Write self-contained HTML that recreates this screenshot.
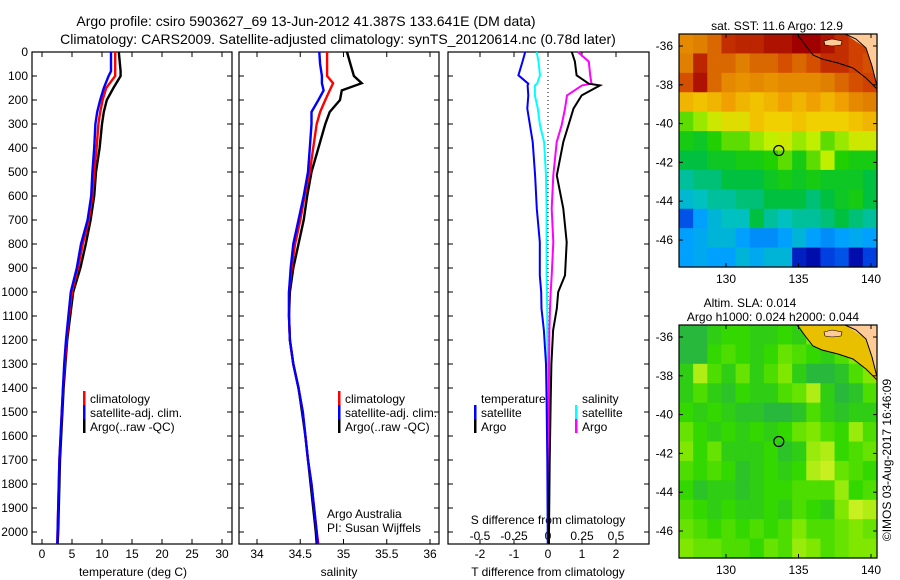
<!DOCTYPE html>
<html><head><meta charset="utf-8"><style>
html,body{margin:0;padding:0;background:#fff;}
svg{display:block;font-family:"Liberation Sans",sans-serif;}
</style></head><body>
<svg id="fig" width="900" height="580" viewBox="0 0 900 580">
<text x="306" y="26" font-size="14" text-anchor="middle">Argo profile: csiro 5903627_69 13-Jun-2012 41.387S 133.641E (DM data)</text>
<text x="338" y="44" font-size="14" text-anchor="middle">Climatology: CARS2009. Satellite-adjusted climatology: synTS_20120614.nc (0.78d later)</text>
<g id="p1"></g>
<g id="p2"></g>
<g id="p3"></g>
<g id="m1"></g>
<g id="m2"></g>
<text transform="translate(891,460) rotate(-90)" font-size="12" text-anchor="middle">©IMOS 03-Aug-2017 16:46:09</text>
</svg>
<script>
// ---- data ----
const depthT = [0,80,100,150,200,250,300,400,500,600,700,800,900,1000,1100,1200,1300,1400,1500,1600,1700,1800,1900,2000,2050];
const tempClim = [12.2,12.2,12.2,10.7,10.1,9.7,9.4,9.1,8.7,8.4,7.8,6.8,6.0,5.0,4.5,4.1,3.8,3.5,3.3,3.1,2.9,2.8,2.7,2.6,2.55];
const tempSat  = [11.5,11.5,11.1,10.3,9.7,9.2,8.9,8.7,8.4,8.2,7.6,6.5,5.8,4.8,4.4,4.0,3.7,3.5,3.3,3.1,2.9,2.8,2.7,2.6,2.55];
const tempArgo = [12.8,13.1,13.1,11.9,10.8,10.3,10.0,9.6,9.0,8.7,8.1,7.3,6.4,5.2,4.7,4.2,3.9,3.6,3.4,3.2,3.0,2.9,2.8,2.7,2.6];
const depthS = [0,50,100,130,160,200,250,300,400,500,600,700,800,900,1000,1100,1200,1300,1400,1500,1600,1700,1800,1900,2000,2050];
const salClim = [34.81,34.81,34.81,34.88,34.84,34.79,34.73,34.69,34.65,34.61,34.55,34.50,34.44,34.40,34.37,34.37,34.38,34.42,34.48,34.53,34.56,34.59,34.63,34.66,34.69,34.71];
const salSat  = [34.72,34.73,34.75,34.75,34.77,34.71,34.63,34.63,34.61,34.59,34.54,34.48,34.42,34.39,34.37,34.37,34.38,34.42,34.48,34.53,34.56,34.59,34.63,34.66,34.69,34.70];
const salArgo = [35.04,35.08,35.12,35.21,34.98,34.96,34.84,34.79,34.71,34.63,34.58,34.54,34.48,34.42,34.38,34.37,34.38,34.42,34.48,34.52,34.56,34.59,34.62,34.65,34.68,34.69];
const depthD = [0,40,97,132,139,181,236,306,375,514,653,792,931,1000,1069,1160,1300,1450,1700,2000,2050];
const dTSat  = [-0.67,-0.75,-0.87,-0.58,-0.6,-0.58,-0.61,-0.53,-0.45,-0.38,-0.33,-0.24,-0.24,-0.2,-0.19,-0.12,-0.06,-0.04,-0.02,-0.01,-0.01];
const dTArgo = [0.70,0.79,0.84,1.2,1.53,0.99,0.75,0.60,0.45,0.26,0.45,0.55,0.50,0.30,0.26,0.15,0.10,0.08,0.05,0.03,0.03];
const dSSat  = [-0.083,-0.07,-0.059,-0.08,-0.096,-0.096,-0.075,-0.059,-0.029,-0.015,-0.01,-0.01,-0.01,-0.008,-0.006,-0.005,-0.004,-0.003,-0.002,-0.001,0];
const dSArgo = [0.22,0.30,0.31,0.32,0.25,0.14,0.125,0.10,0.064,0.039,0.027,0.039,0.027,0.02,0.015,0.01,0.008,0.006,0.004,0.003,0.003];
const depthTicks = [0,100,200,300,400,500,600,700,800,900,1000,1100,1200,1300,1400,1500,1600,1700,1800,1900,2000];
const tempTicks = [0,5,10,15,20,25,30];
const salTicks = [34,34.5,35,35.5,36];
const salTickLabels = ["34","34.5","35","35.5","36"];
const tdTicks = [-2,-1,0,1,2];
const sdTicks = [-0.5,-0.25,0,0.25,0.5];
const sdTickLabels = ["-0.5","-0.25","0","0.25","0.5"];
const lonTicks = [130,135,140];
const latTicks = [-36,-38,-40,-42,-44,-46];
const sstGrid = [
[.80,.82,.85,.92,.93,.93,.95,.95,.97,.97,.95,.92,.90,.90],
[.82,.93,.85,.85,.82,.85,.85,.88,.85,.88,.92,.92,.90,.88],
[.88,.95,.85,.80,.78,.80,.78,.80,.80,.80,.82,.85,.88,.90],
[.72,.70,.72,.75,.72,.70,.72,.75,.72,.75,.72,.75,.80,.82],
[.55,.58,.62,.65,.65,.70,.68,.68,.70,.68,.68,.68,.70,.72],
[.50,.48,.52,.55,.55,.58,.60,.62,.58,.60,.55,.58,.62,.62],
[.45,.45,.48,.48,.50,.50,.52,.55,.50,.55,.60,.52,.50,.50],
[.40,.42,.42,.45,.45,.45,.48,.50,.48,.50,.48,.48,.48,.45],
[.36,.38,.40,.40,.42,.42,.45,.45,.45,.42,.45,.48,.50,.45],
[.22,.30,.35,.38,.38,.45,.40,.38,.40,.40,.42,.45,.42,.40],
[.30,.32,.35,.35,.30,.28,.28,.30,.35,.30,.28,.30,.32,.30],
[.30,.32,.30,.30,.35,.32,.35,.35,.15,.12,.20,.22,.12,.20]];
const slaGrid = [
[.3,.3,.4,.45,.45,.4,.4,.45,.4,.6,.8,.9,.9,.9],
[.3,.3,.45,.5,.45,.4,.45,.55,.5,.45,.4,.5,.6,.7],
[.4,.7,.5,.4,.55,.4,.5,.6,.4,.3,.3,.35,.5,.6],
[.4,.5,.4,.35,.45,.4,.4,.5,.55,.7,.4,.3,.35,.5],
[.45,.4,.45,.4,.35,.35,.3,.3,.35,.5,.4,.35,.4,.4],
[.55,.45,.4,.45,.4,.45,.4,.45,.55,.6,.5,.45,.65,.5],
[.6,.45,.55,.4,.4,.4,.45,.35,.4,.65,.7,.45,.5,.55],
[.5,.45,.5,.45,.35,.4,.45,.4,.45,.7,.75,.55,.5,.45],
[.45,.35,.4,.4,.35,.4,.45,.45,.5,.5,.5,.65,.45,.5],
[.5,.45,.4,.45,.4,.4,.45,.4,.5,.45,.4,.6,.75,.7],
[.55,.5,.45,.5,.45,.5,.45,.5,.6,.5,.5,.55,.6,.55],
[.6,.55,.55,.5,.5,.45,.55,.5,.65,.6,.5,.55,.6,.6]];

// ---- helpers ----
const NS="http://www.w3.org/2000/svg";
function mk(parent,tag,attrs,txt){const e=document.createElementNS(NS,tag);for(const k in attrs)e.setAttribute(k,attrs[k]);if(txt!==undefined)e.textContent=txt;parent.appendChild(e);return e;}
const PT=52, PB=544;
const yD = d => PT + d*0.24;
function linX(d0,p0,d1,p1){return v=>p0+(v-d0)*(p1-p0)/(d1-d0);}
const xT = linX(0,42,30,222);
const xS = linX(34,257,36,430);
const xTD = linX(0,548,2,616);
const xSD = linX(0,548,0.5,616);

function frame(g,x0,x1,xticks,xf){
  const r=mk(g,'rect',{x:x0,y:PT,width:x1-x0,height:PB-PT,fill:'none',stroke:'#000','stroke-width':1.2});
  
  
  depthTicks.forEach(d=>{
    mk(g,'line',{x1:x0,x2:x0+5,y1:yD(d),y2:yD(d),stroke:'#000'});
    mk(g,'line',{x1:x1,x2:x1-5,y1:yD(d),y2:yD(d),stroke:'#000'});
  });
  xticks.forEach(v=>{
    mk(g,'line',{x1:xf(v),x2:xf(v),y1:PT,y2:PT+5,stroke:'#000'});
    mk(g,'line',{x1:xf(v),x2:xf(v),y1:PB,y2:PB-5,stroke:'#000'});
  });
}
function series(g,xs,ds,xf,color,name,w){
  const pts=xs.map((v,i)=>xf(v).toFixed(1)+','+yD(ds[i]).toFixed(1)).join(' ');
  const p=mk(g,'polyline',{points:pts,fill:'none',stroke:color,'stroke-width':w||2.4,'stroke-linejoin':'miter'});
  
  
}
function legend(g,x,y,color,label,name){
  mk(g,'rect',{x:x,y:y-7,width:2.5,height:14,fill:color});
  const t=mk(g,'text',{x:x+7,y:y+5,'font-size':12},label);
  
  
}

// ---- panel 1 ----
const p1=document.getElementById('p1');
frame(p1,32,232,tempTicks,xT);
depthTicks.forEach(d=>{const t=mk(p1,'text',{x:28,y:yD(d)+4,'font-size':12,'text-anchor':'end'},String(d));
 
 });
tempTicks.forEach(v=>{const t=mk(p1,'text',{x:xT(v),y:558,'font-size':12,'text-anchor':'middle'},String(v));
 
 });
let t1=mk(p1,'text',{x:133,y:576,'font-size':12,'text-anchor':'middle'},'temperature (deg C)');


series(p1,tempArgo,depthT,xT,'#000','line-temp-argo');
series(p1,tempClim,depthT,xT,'#f00','line-temp-clim');
series(p1,tempSat,depthT,xT,'#00f','line-temp-sat');
legend(p1,83,398,'#f00','climatology','legend-climatology');
legend(p1,83,412,'#00f','satellite-adj. clim.','legend-satellite-adj');
legend(p1,83,426,'#000','Argo(..raw -QC)','legend-argo');

// ---- panel 2 ----
const p2=document.getElementById('p2');
frame(p2,239,439,salTicks,xS);
salTicks.forEach((v,i)=>{const t=mk(p2,'text',{x:xS(v),y:558,'font-size':12,'text-anchor':'middle'},salTickLabels[i]);
 
 });
let t2=mk(p2,'text',{x:339,y:576,'font-size':12,'text-anchor':'middle'},'salinity');


series(p2,salArgo,depthS,xS,'#000','line-sal-argo');
series(p2,salClim,depthS,xS,'#f00','line-sal-clim');
series(p2,salSat,depthS,xS,'#00f','line-sal-sat');
legend(p2,338,398,'#f00','climatology','legend-climatology');
legend(p2,338,412,'#00f','satellite-adj. clim.','legend-satellite-adj');
legend(p2,338,426,'#000','Argo(..raw -QC)','legend-argo');
let a1=mk(p2,'text',{x:327,y:518,'font-size':12},'Argo Australia');


let a2=mk(p2,'text',{x:327,y:532,'font-size':12},'PI: Susan Wijffels');



// ---- panel 3 ----
const p3=document.getElementById('p3');
frame(p3,448,649,tdTicks,xTD);
mk(p3,'line',{x1:548,x2:548,y1:PT,y2:PB,stroke:'#000','stroke-dasharray':'1,3'});
tdTicks.forEach(v=>{const t=mk(p3,'text',{x:xTD(v),y:558,'font-size':12,'text-anchor':'middle'},String(v));
 
 });
sdTicks.forEach((v,i)=>{const t=mk(p3,'text',{x:xSD(v),y:540,'font-size':12,'text-anchor':'middle'},sdTickLabels[i]);
 
 });
let t3=mk(p3,'text',{x:548,y:576,'font-size':12,'text-anchor':'middle'},'T difference from climatology');


let t4=mk(p3,'text',{x:548,y:524,'font-size':12,'text-anchor':'middle'},'S difference from climatology');


series(p3,dSSat,depthD,xSD,'#0ff','line-sdiff-sat',2);
series(p3,dSArgo,depthD,xSD,'#f0f','line-sdiff-argo',2);
series(p3,dTSat,depthD,xTD,'#00f','line-tdiff-sat',2);
series(p3,dTArgo,depthD,xTD,'#000','line-tdiff-argo',2);
let lt=mk(p3,'text',{x:481,y:403,'font-size':12},'temperature');


let ls=mk(p3,'text',{x:582,y:403,'font-size':12},'salinity');


legend(p3,474,412,'#00f','satellite','legend-t-satellite');
legend(p3,474,426,'#000','Argo','legend-t-argo');
legend(p3,575,412,'#0ff','satellite','legend-s-satellite');
legend(p3,575,426,'#f0f','Argo','legend-s-argo');

// ---- maps ----
function rgb(c){return 'rgb('+c.join(',')+')';}
function interp(stops,v){
  if(v<=stops[0][0]) return rgb(stops[0][1]);
  for(let i=1;i<stops.length;i++){
    if(v<=stops[i][0]){
      const a=stops[i-1],b=stops[i],f=(v-a[0])/(b[0]-a[0]);
      return rgb([0,1,2].map(k=>Math.round(a[1][k]+(b[1][k]-a[1][k])*f)));
    }
  }
  return rgb(stops[stops.length-1][1]);
}
const sstStops=[[0.1,[0,0,160]],[0.2,[0,64,224]],[0.3,[0,160,255]],[0.38,[0,192,192]],[0.45,[0,192,64]],[0.52,[32,208,0]],[0.6,[192,240,0]],[0.68,[240,208,0]],[0.75,[240,160,0]],[0.82,[224,128,0]],[0.9,[208,64,0]],[0.97,[160,0,0]]];
const slaStops=[[0.3,[40,184,60]],[0.45,[51,216,0]],[0.6,[128,232,0]],[0.75,[200,240,32]],[0.9,[240,200,0]]];
function sstCol(v){return interp(sstStops,v);}
function slaCol(v){return interp(slaStops,v);}
function drawMap(id,top,grid,colf,titles,coastFill){
  const g=document.getElementById(id);
  const X0=679,X1=877,H=233;
  const lonX=lon=>726+(lon-130)*14.5;
  const latY=lat=>top+12+(-36-lat)*19.4;
  const rows=grid.length, cols=grid[0].length, cw=(X1-X0)/cols, ch=H/rows;
  grid.forEach((row,i)=>row.forEach((v,j)=>{
    const r=mk(g,'rect',{x:(X0+j*cw).toFixed(2),y:(top+i*ch).toFixed(2),width:(cw+0.6).toFixed(2),height:(ch+0.6).toFixed(2),fill:colf(v)});
    
    
  }));
  if(coastFill){
    mk(g,'polygon',{points:`${X0+120},${top} ${X1},${top} ${X1},${top+58} 866,${top+44} 853,${top+34} 838,${top+29} 822,${top+25} 813,${top+21} 806,${top+12}`,fill:coastFill});
  }
  mk(g,'polygon',{points:`845,${top} ${X1},${top} ${X1},${top+52} 872,${top+32} 866,${top+14}`,fill:'#fc9'});
  mk(g,'polygon',{points:`824,${top+7} 832,${top+5} 842,${top+7} 841,${top+11} 832,${top+12} 825,${top+11}`,fill:'#fc9',stroke:'#000','stroke-width':0.6});
  mk(g,'polyline',{points:`797,${top} 806,${top+12} 813,${top+21} 822,${top+25} 838,${top+29} 853,${top+34} 866,${top+44} 877,${top+55}`,fill:'none',stroke:'#000','stroke-width':1});
  mk(g,'polyline',{points:`845,${top} 856,${top+5} 866,${top+14} 872,${top+32} ${X1},${top+52}`,fill:'none',stroke:'#000','stroke-width':1});
  const fr=mk(g,'rect',{x:X0,y:top,width:X1-X0,height:H,fill:'none',stroke:'#000','stroke-width':1.2});
  
  
  lonTicks.forEach(l=>{
    mk(g,'line',{x1:lonX(l),x2:lonX(l),y1:top,y2:top+4,stroke:'#000'});
    mk(g,'line',{x1:lonX(l),x2:lonX(l),y1:top+H,y2:top+H-4,stroke:'#000'});
    const t=mk(g,'text',{x:lonX(l),y:top+H+16,'font-size':12,'text-anchor':'middle'},String(l));
    
    
  });
  latTicks.forEach(l=>{
    mk(g,'line',{x1:X0,x2:X0+4,y1:latY(l),y2:latY(l),stroke:'#000'});
    mk(g,'line',{x1:X1,x2:X1-4,y1:latY(l),y2:latY(l),stroke:'#000'});
    const t=mk(g,'text',{x:673,y:latY(l)+4,'font-size':12,'text-anchor':'end'},String(l));
    
    
  });
  const c=mk(g,'circle',{cx:lonX(133.641),cy:latY(-41.387),r:5,fill:'none',stroke:'#000','stroke-width':1.2});
  
  
  titles.forEach((s,i)=>{
    const t=mk(g,'text',{x:s[1],y:top-4-14*(titles.length-1-i),'font-size':12,'text-anchor':'middle'},s[0]);
    
    
  });
}
drawMap('m1',34,sstGrid,sstCol,[['sat. SST: 11.6  Argo: 12.9',777]],null);
drawMap('m2',325,slaGrid,slaCol,[['Altim. SLA: 0.014',750],['Argo h1000: 0.024 h2000: 0.044',773]],'#e8c000');
</script>
</body></html>
